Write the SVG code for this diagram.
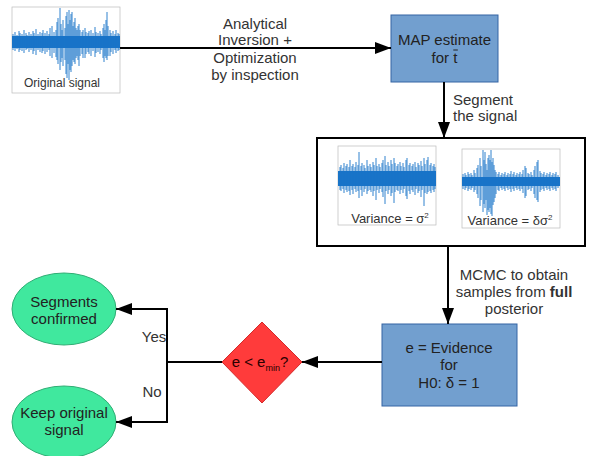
<svg xmlns="http://www.w3.org/2000/svg" width="591" height="456" viewBox="0 0 591 456">
<style>
.t{font-family:"Liberation Sans",Arial,sans-serif;font-size:15px;fill:#222;text-anchor:middle}
.lbl{font-family:"Liberation Sans",Arial,sans-serif;font-size:15px;fill:#333;text-anchor:middle}
.cap{font-family:"Liberation Sans",Arial,sans-serif;font-size:13px;fill:#333;text-anchor:middle}
.box{fill:#729fcf;stroke:#3465a4;stroke-width:1}
.ell{fill:#40e89e;stroke:#2fae74;stroke-width:1}
.con{stroke:#000;stroke-width:2;fill:none}
.frame{fill:#fff;stroke:#bbb;stroke-width:0.7}
.sig{stroke:#1874c8;stroke-width:0.9;fill:none}
.band{fill:#1874c8}
</style>
<defs>
<marker id="ah" viewBox="0 0 16 12" refX="16" refY="6" markerWidth="16" markerHeight="12" markerUnits="userSpaceOnUse" orient="auto">
<path d="M0,0 L16,6 L0,12 Z" fill="#000"/>
</marker>
</defs>
<rect width="591" height="456" fill="#fff"/>

<g id="original-signal">
<rect class="frame" x="12" y="7" width="108" height="86"/>
<rect class="band" x="12" y="36" width="108" height="12"/>
<path class="sig" d="M13 34V50M15 32V51M17 35V49M19 31V52M20 33V50M22 34V51M24 30V53M26 33V50M27 35V49M29 32V52M31 34V50M33 31V54M34 33V51M36 29V55M38 34V50M40 32V52M42 33V53M43 30V51M45 33V54M47 31V52M49 34V50M50 28V56M52 26V58M54 32V53M56 30V57M57 22V60M58 18V64M60 8V70M61 24V62M62 30V58M63 20V66M65 28V60M66 16V74M67 12V78M68 24V64M69 10V80M70 20V70M71 14V72M72 12V66M73 26V60M74 22V62M75 18V64M76 28V58M77 30V56M78 26V60M79 24V66M80 30V56M82 32V54M83 30V58M85 28V58M86 32V54M88 33V52M89 31V54M91 30V56M93 33V51M95 27V57M96 32V53M98 33V52M100 31V54M101 34V50M103 28V58M104 24V62M105 30V56M106 20V58M107 12V60M108 26V56M110 30V56M111 33V52M113 31V54M115 34V50M116 30V53M118 33V51M119 34V50"/>
<text class="cap" x="62" y="87" style="font-size:12px">Original signal</text>
</g>

<g id="map-estimate">
<rect class="box" x="391" y="15" width="107" height="67"/>
<text class="t" x="444.5" y="45">MAP estimate</text>
<text class="t" x="444.5" y="63">for t</text>
<line x1="453.3" y1="50" x2="457.8" y2="50" stroke="#222" stroke-width="1"/>
</g>

<g id="segmented-signals">
<rect x="317" y="138" width="268" height="108" fill="#fff" stroke="#000" stroke-width="2"/>
<rect class="frame" x="338" y="146" width="98" height="79"/>
<rect class="band" x="338" y="171" width="98" height="15"/>
<path class="sig" d="M340 167V190M341 165V191M343 168V189M344 163V193M346 166V190M347 164V192M349 167V191M350 160V195M352 166V190M353 164V194M355 167V189M356 162V192M358 165V191M359 152V198M361 166V190M362 163V196M364 165V192M365 168V189M367 160V194M368 166V191M370 164V190M371 167V192M373 162V196M374 165V191M376 158V200M377 166V190M379 164V193M380 167V189M382 163V192M383 160V197M385 156V204M386 165V191M388 162V194M389 166V190M391 160V196M392 164V193M394 158V203M395 163V192M397 166V190M398 164V191M400 162V194M401 166V190M403 163V193M404 167V189M406 160V196M407 158V199M409 165V191M410 163V194M412 166V190M413 164V192M415 162V195M416 167V189M418 163V193M419 165V191M421 161V197M422 166V190M424 158V206M425 164V193M427 160V194M428 157V192M430 165V191M431 163V193M433 166V190M434 164V192M435 167V189"/>
<text class="cap" x="390" y="223">Variance = σ<tspan dy="-5" style="font-size:8px">2</tspan></text>
<rect class="frame" x="462" y="149" width="98" height="79"/>
<rect class="band" x="462" y="177" width="98" height="9"/>
<path class="sig" d="M463 174V189M465 173V190M466 175V188M468 172V191M469 174V189M471 173V190M472 175V188M474 170V192M475 173V190M477 168V194M478 165V198M480 158V206M481 166V200M483 150V212M484 160V204M485 152V208M486 164V200M487 170V215M488 158V210M489 155V212M490 160V208M491 150V214M492 162V216M493 158V205M494 165V202M495 170V198M496 172V194M498 174V190M499 172V191M501 175V188M502 173V190M504 174V189M505 172V191M507 175V188M508 173V190M510 174V189M511 171V192M513 174V189M514 172V191M516 175V188M517 173V190M519 174V189M520 172V191M522 174V189M523 170V193M525 166V198M526 168V196M528 173V190M529 174V189M531 172V191M532 175V188M534 170V194M535 166V198M537 162V200M538 160V202M540 171V192M541 173V190M543 174V189M544 172V191M546 175V188M547 173V190M549 174V189M550 172V191M552 175V188M553 173V190M555 174V189M556 172V191M558 175V188"/>
<text class="cap" x="510" y="225">Variance = δσ<tspan dy="-5" style="font-size:8px">2</tspan></text>
</g>

<g id="evidence">
<rect class="box" x="382" y="324" width="135" height="82"/>
<text class="t" x="449" y="353">e = Evidence</text>
<text class="t" x="449" y="370">for</text>
<text class="t" x="449" y="388">H0: δ = 1</text>
</g>

<g id="decision">
<polygon points="262,322 302,362 262,403 222,362" fill="#ff3b3b" stroke="#d42a2a" stroke-width="1"/>
<text class="t" x="260" y="367" style="fill:#2a0000">e &lt; e<tspan dy="4" style="font-size:9px">min</tspan><tspan dy="-4">?</tspan></text>
</g>

<g id="segments-confirmed">
<ellipse class="ell" cx="64" cy="309" rx="52" ry="36"/>
<text class="t" x="64" y="307">Segments</text>
<text class="t" x="64" y="324">confirmed</text>
</g>

<g id="keep-original">
<ellipse class="ell" cx="64" cy="422" rx="52" ry="36"/>
<text class="t" x="64" y="418">Keep original</text>
<text class="t" x="64" y="435">signal</text>
</g>

<g id="connectors">
<line class="con" x1="120" y1="48" x2="391" y2="48" marker-end="url(#ah)"/>
<line class="con" x1="444" y1="82" x2="444" y2="138" marker-end="url(#ah)"/>
<line class="con" x1="448" y1="246" x2="448" y2="324" marker-end="url(#ah)"/>
<line class="con" x1="382" y1="362" x2="302" y2="362" marker-end="url(#ah)"/>
<polyline class="con" points="222,362 167,362 167,309 116,309" marker-end="url(#ah)"/>
<polyline class="con" points="167,362 167,422 116,422" marker-end="url(#ah)"/>
</g>

<g id="labels">
<text class="lbl" x="255" y="29">Analytical</text>
<text class="lbl" x="255" y="45">Inversion +</text>
<text class="lbl" x="255" y="63">Optimization</text>
<text class="lbl" x="255" y="80">by inspection</text>
<text class="lbl" x="453" y="105" style="text-anchor:start">Segment</text>
<text class="lbl" x="453" y="121" style="text-anchor:start">the signal</text>
<text class="lbl" x="514" y="280">MCMC to obtain</text>
<text class="lbl" x="514" y="297">samples from <tspan font-weight="bold">full</tspan></text>
<text class="lbl" x="514" y="314">posterior</text>
<text class="lbl" x="154" y="342">Yes</text>
<text class="lbl" x="152" y="397">No</text>
</g>
</svg>
